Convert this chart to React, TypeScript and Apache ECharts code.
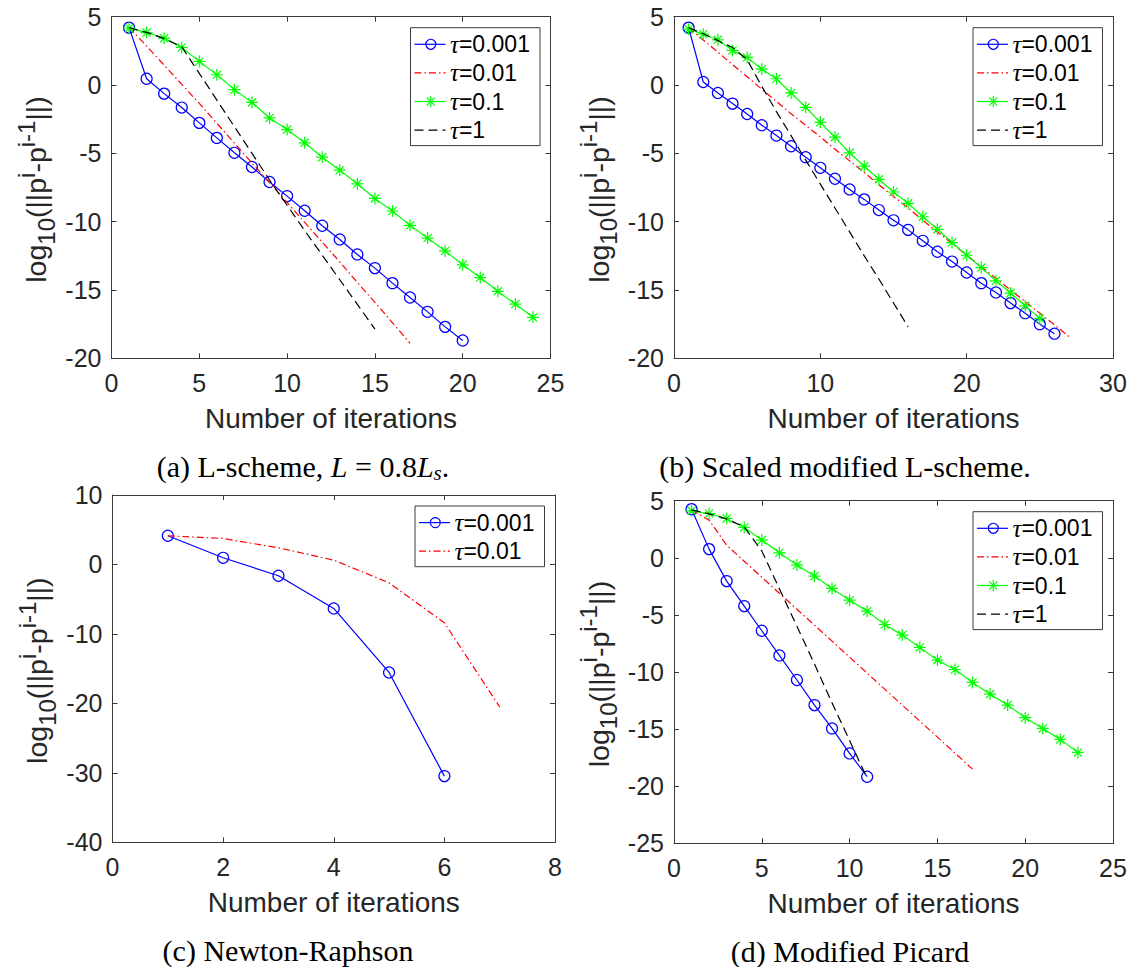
import React, { useEffect, useRef } from "react";
import * as echarts from "echarts";

// log10 of the difference between successive pressure iterates, for iterations 1..n

// (a) L-scheme, L = 0.8 Ls
const lsTau0001 = [4.2, 0.46, -0.63, -1.65, -2.77, -3.87, -4.96, -6.0, -7.1, -8.13, -9.2, -10.3, -11.3, -12.4, -13.4, -14.5, -15.55, -16.6, -17.7, -18.7];
const lsTau001 = [4.2, 2.85, 1.45, 0.05, -1.35, -2.8, -4.25, -5.7, -7.15, -8.6, -10.05, -11.5, -12.95, -14.45, -15.9, -17.4, -18.9];
const lsTau01 = [4.16, 3.84, 3.43, 2.75, 1.73, 0.75, -0.34, -1.27, -2.41, -3.26, -4.23, -5.28, -6.23, -7.23, -8.3, -9.22, -10.27, -11.2, -12.14, -13.16, -14.09, -15.1, -16.03, -17.0];
const lsTau1 = [4.2, 3.85, 3.4, 2.8, 0.85, -1.1, -3.05, -5.0, -6.95, -8.8, -10.65, -12.45, -14.25, -16.05, -17.86];

// (b) scaled modified L-scheme
const smlTau0001 = [4.2, 0.22, -0.58, -1.36, -2.12, -2.94, -3.7, -4.48, -5.28, -6.06, -6.86, -7.64, -8.37, -9.15, -9.9, -10.6, -11.4, -12.2, -12.92, -13.72, -14.5, -15.18, -15.96, -16.7, -17.5, -18.2];
const smlTau001 = [4.2, 3.3, 2.4, 1.5, 0.6, -0.3, -1.2, -2.1, -2.95, -3.8, -4.7, -5.55, -6.4, -7.3, -8.15, -9.0, -9.9, -10.75, -11.6, -12.45, -13.3, -14.15, -15.0, -15.85, -16.7, -17.55, -18.42];
const smlTau01 = [4.09, 3.72, 3.31, 2.53, 2.02, 1.17, 0.46, -0.58, -1.63, -2.73, -3.82, -4.96, -5.94, -6.9, -7.83, -8.66, -9.64, -10.56, -11.53, -12.46, -13.36, -14.33, -15.23, -16.16, -17.08];
const smlTau1 = [4.2, 3.75, 3.25, 2.75, 1.85, -0.1, -1.95, -3.7, -5.5, -7.25, -9.0, -10.75, -12.5, -14.2, -15.95, -17.7];

// (c) Newton-Raphson
const nrTau0001 = [4.13, 0.96, -1.63, -6.33, -15.55, -30.47];
const nrTau001 = [4.13, 3.74, 2.4, 0.62, -2.64, -8.4, -20.5];

// (d) modified Picard
const mpTau0001 = [4.26, 0.76, -2.04, -4.23, -6.39, -8.55, -10.7, -12.9, -14.94, -17.13, -19.17];
const mpTau001 = [4.2, 3.3, 1.1, -0.3, -1.7, -3.1, -4.5, -5.9, -7.3, -8.7, -10.1, -11.5, -12.9, -14.3, -15.7, -17.1, -18.5];
const mpTau01 = [4.11, 3.88, 3.44, 2.66, 1.55, 0.44, -0.64, -1.6, -2.68, -3.71, -4.67, -5.84, -6.77, -7.85, -8.96, -9.78, -10.91, -11.93, -12.9, -14.0, -14.94, -15.9, -17.04];
const mpTau1 = [4.2, 3.85, 3.4, 2.7, 0.6, -2.7, -6.0, -9.3, -12.7, -16.0, -19.3];

// legend values of the time step
const tauValues = ["0.001", "0.01", "0.1", "1"];

// axis ranges: [min, max, interval]
const xRangeA = [0, 25, 5];
const yRangeA = [-20, 5, 5];
const xRangeB = [0, 30, 10];
const yRangeB = [-20, 5, 5];
const xRangeC = [0, 8, 2];
const yRangeC = [-40, 10, 10];
const xRangeD = [0, 25, 5];
const yRangeD = [-25, 5, 5];

const captionA = "{n|(a) L-scheme, }{i|L}{n| = 0.8}{i|L}{s|s}{n|.}";
const captionB = "{n|(b) Scaled modified L-scheme.}";
const captionC = "{n|(c) Newton-Raphson}";
const captionD = "{n|(d) Modified Picard}";

const W = 1135;
const H = 967;
const AXIS_COLOR = "#262626";
const FRAME_COLOR = "#3a3a3a";
const SANS = "'Liberation Sans', Arial, Helvetica, sans-serif";
const SERIF = "'Liberation Serif', 'Times New Roman', serif";

const lineColors = ["#0000ff", "#ff0000", "#00ff00", "#000000"];
const lineDashes: (number[] | null)[] = [null, [7, 3, 1.5, 3], null, [9, 5]];
const STAR = "path://M0,5L10,5M5,0L5,10M1.6,1.6L8.4,8.4M8.4,1.6L1.6,8.4";

type Panel = {
  box: { left: number; top: number; width: number; height: number };
  xr: number[];
  yr: number[];
  lines: number[][];
  caption: string;
  captionX: number;
};

const panels: Panel[] = [
  { box: { left: 111.5, top: 16.7, width: 439, height: 341.6 }, xr: xRangeA, yr: yRangeA, lines: [lsTau0001, lsTau001, lsTau01, lsTau1], caption: captionA, captionX: 303 },
  { box: { left: 674, top: 16.7, width: 439, height: 341.6 }, xr: xRangeB, yr: yRangeB, lines: [smlTau0001, smlTau001, smlTau01, smlTau1], caption: captionB, captionX: 845 },
  { box: { left: 112.5, top: 495, width: 442.5, height: 347.3 }, xr: xRangeC, yr: yRangeC, lines: [nrTau0001, nrTau001], caption: captionC, captionX: 288 },
  { box: { left: 674, top: 500.7, width: 439, height: 342.6 }, xr: xRangeD, yr: yRangeD, lines: [mpTau0001, mpTau001, mpTau01, mpTau1], caption: captionD, captionX: 850 },
];

function valueAxis(gridIndex: number, r: number[], position: string, labels: boolean) {
  return {
    type: "value",
    gridIndex,
    min: r[0],
    max: r[1],
    interval: r[2],
    position,
    axisLine: { show: true, onZero: false, lineStyle: { color: FRAME_COLOR, width: 1 } },
    axisTick: { show: true, inside: true, length: 5, lineStyle: { color: FRAME_COLOR, width: 1 } },
    axisLabel: {
      show: labels,
      color: AXIS_COLOR,
      fontSize: 25,
      fontFamily: SANS,
      margin: position === "bottom" ? 12 : 10,
    },
    splitLine: { show: false },
    splitArea: { show: false },
  };
}

function lineSeries(kind: number, values: number[], axisIndex: number) {
  const color = lineColors[kind];
  const s: any = {
    type: "line",
    name: "τ=" + tauValues[kind],
    xAxisIndex: axisIndex,
    yAxisIndex: axisIndex,
    data: values.map((v, i) => [i + 1, v]),
    z: 2 + kind,
    silent: true,
    emphasis: { disabled: true },
    lineStyle: { color, width: 1.2, type: lineDashes[kind] || "solid" },
    symbol: "none",
  };
  if (kind === 0) {
    s.symbol = "circle";
    s.symbolSize = 11;
    s.itemStyle = { color: "rgba(0,0,0,0)", borderColor: color, borderWidth: 1.2 };
  } else if (kind === 2) {
    s.symbol = STAR;
    s.symbolSize = 12;
    s.itemStyle = { color: "rgba(0,0,0,0)", borderColor: color, borderWidth: 1.2 };
  }
  return s;
}

function legendGraphics(p: Panel) {
  const n = p.lines.length;
  const bw = 129.5;
  const bh = 28.6 * n + 3.5;
  const bx = p.box.left + p.box.width - 10.5 - bw;
  const by = p.box.top + 11;
  const els: any[] = [
    { type: "rect", shape: { x: bx, y: by, width: bw, height: bh }, style: { fill: "#ffffff", stroke: FRAME_COLOR, lineWidth: 1 }, z: 100 },
  ];
  for (let k = 0; k < n; k++) {
    const cy = by + 16.6 + 28.6 * k;
    const color = lineColors[k];
    els.push({
      type: "line",
      shape: { x1: bx + 4, y1: cy, x2: bx + 35, y2: cy },
      style: { stroke: color, lineWidth: 1.2, lineDash: lineDashes[k] || null },
      z: 101,
    });
    const mx = bx + 20.3;
    if (k === 0) {
      els.push({ type: "circle", shape: { cx: mx, cy, r: 5 }, style: { fill: "none", stroke: color, lineWidth: 1.2 }, z: 102 });
    } else if (k === 2) {
      const r = 5.8;
      const d = r * 0.7;
      [[-r, 0, r, 0], [0, -r, 0, r], [-d, -d, d, d], [d, -d, -d, d]].forEach((a) =>
        els.push({
          type: "line",
          shape: { x1: mx + a[0], y1: cy + a[1], x2: mx + a[2], y2: cy + a[3] },
          style: { stroke: color, lineWidth: 1.2 },
          z: 102,
        })
      );
    }
    els.push({
      type: "text",
      x: bx + 39.5,
      y: cy,
      z: 102,
      style: {
        text: "{t|τ}{v|=" + tauValues[k] + "}",
        align: "left",
        verticalAlign: "middle",
        fill: "#000000",
        rich: {
          t: { fontFamily: SERIF, fontStyle: "italic", fontSize: 25, fill: "#000000", verticalAlign: "middle" },
          v: { fontFamily: SANS, fontSize: 23, fill: "#000000", verticalAlign: "middle" },
        },
      },
    });
  }
  return els;
}

function buildOption() {
  const grid: any[] = [];
  const xAxis: any[] = [];
  const yAxis: any[] = [];
  const series: any[] = [];
  const graphic: any[] = [];

  panels.forEach((p, k) => {
    grid.push({
      left: p.box.left,
      top: p.box.top,
      width: p.box.width,
      height: p.box.height,
      containLabel: false,
      outerBoundsMode: "none",
      show: false,
    });
    xAxis.push(valueAxis(k, p.xr, "bottom", true));
    xAxis.push(valueAxis(k, p.xr, "top", false));
    yAxis.push(valueAxis(k, p.yr, "left", true));
    yAxis.push(valueAxis(k, p.yr, "right", false));
    p.lines.forEach((vals, kind) => series.push(lineSeries(kind, vals, k * 2)));

    const bottom = p.box.top + p.box.height;
    const midX = p.box.left + p.box.width / 2;
    const midY = p.box.top + p.box.height / 2;

    // x-axis title
    graphic.push({
      type: "text",
      x: midX,
      y: bottom + 60,
      z: 100,
      style: {
        text: "Number of iterations",
        fill: AXIS_COLOR,
        fontSize: 28,
        fontFamily: SANS,
        align: "center",
        verticalAlign: "middle",
      },
    });

    // y-axis title with subscript / superscripts
    graphic.push({
      type: "text",
      x: p.box.left - 75.5,
      y: midY + 2,
      rotation: Math.PI / 2,
      z: 100,
      style: {
        text: "{m|log}{b|10}{m|(||p}{p|i}{m|-p}{p|i-1}{m|||)}",
        align: "center",
        verticalAlign: "middle",
        fill: AXIS_COLOR,
        rich: {
          m: { fontFamily: SANS, fontSize: 28.5, lineHeight: 44, fill: AXIS_COLOR, verticalAlign: "middle" },
          b: { fontFamily: SANS, fontSize: 24, lineHeight: 24, fill: AXIS_COLOR, verticalAlign: "bottom" },
          p: { fontFamily: SANS, fontSize: 24, lineHeight: 24, fill: AXIS_COLOR, verticalAlign: "top" },
        },
      },
    });

    // sub-figure caption
    graphic.push({
      type: "text",
      x: p.captionX,
      y: bottom + 108,
      z: 100,
      style: {
        text: p.caption,
        align: "center",
        verticalAlign: "middle",
        fill: "#000000",
        rich: {
          n: { fontFamily: SERIF, fontSize: 30, lineHeight: 34, fill: "#000000", verticalAlign: "middle" },
          i: { fontFamily: SERIF, fontStyle: "italic", fontSize: 30, lineHeight: 34, fill: "#000000", verticalAlign: "middle" },
          s: { fontFamily: SERIF, fontStyle: "italic", fontSize: 21, lineHeight: 21, fill: "#000000", verticalAlign: "bottom" },
        },
      },
    });

    legendGraphics(p).forEach((e) => graphic.push(e));
  });

  return {
    animation: false,
    backgroundColor: "#ffffff",
    grid,
    xAxis,
    yAxis,
    series,
    graphic,
  };
}

export default function App() {
  const ref = useRef<HTMLDivElement>(null);
  useEffect(() => {
    if (!ref.current) return;
    const chart = echarts.init(ref.current, null, { renderer: "svg" });
    chart.setOption(buildOption() as any);
    return () => chart.dispose();
  }, []);
  return (
    <div
      ref={ref}
      style={{ position: "absolute", left: 0, top: 0, width: W, height: H, background: "#ffffff" }}
    />
  );
}
